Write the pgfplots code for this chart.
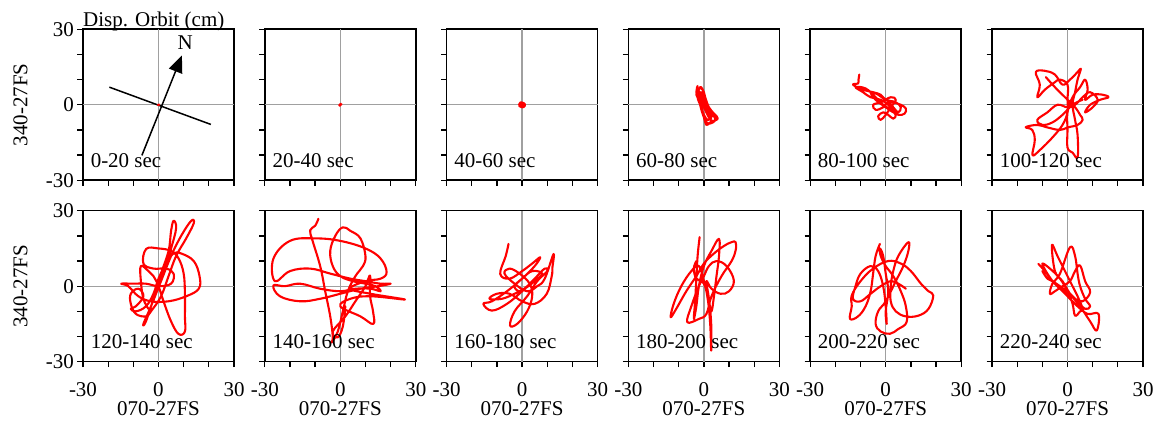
\documentclass[border=0pt]{standalone}
\usepackage{fontspec}
\setmainfont{Liberation Serif}
\usepackage{pgfplots}
\pgfplotsset{compat=1.18}
\usetikzlibrary{arrows.meta}
\definecolor{gridgray}{RGB}{160,160,160}
\definecolor{orbred}{RGB}{255,0,0}
\newcommand{\bigf}{\fontsize{21}{25}\selectfont}
\pgfplotsset{
  orb/.style={
    anchor=south west, scale only axis, width=151pt, height=151pt,
    xmin=-30, xmax=30, ymin=-30, ymax=30, clip=false,
    xtick={-30,0,30}, ytick={-30,0,30},
    minor xtick={-20,-10,10,20}, minor ytick={-20,-10,10,20},
    tick pos=left, tick align=outside,
    major tick length=5.5pt, minor tick length=5.5pt,
    every tick/.style={black, line width=1.3pt},
    axis line style={black, line width=1.6pt},
    xticklabels={}, yticklabels={},
    /pgf/number format/assume math mode=true,
    tick label style={font=\bigf},
    xticklabel style={yshift=-12pt},
    label style={font=\bigf},
  },
  lcol/.style={yticklabels={-30,0,30}, ylabel={340-27FS},
    ylabel style={at={(axis description cs:-0.368,0.5)}, anchor=base, inner sep=0pt, rotate=0}},
  brow/.style={xticklabels={-30,0,30}, xlabel={070-27FS},
    xlabel style={at={(axis description cs:0.5,-0.262)}, anchor=north, inner sep=0pt}},
  gridl/.style={gridgray, line width=1.3pt, forget plot},
  orbit/.style={orbred, line width=2.1pt, smooth, tension=0.65, no marks, line join=round, line cap=round},
}
\newcommand{\cross}{%
  \addplot[gridl] coordinates {(-30,0) (30,0)};
  \addplot[gridl] coordinates {(0,-30) (0,30)};}
\newcommand{\tlabel}[1]{\node[anchor=base west, inner sep=0pt, font=\bigf] at (rel axis cs:0.05,0.088) {#1};}
\begin{document}
\begin{tikzpicture}
\useasboundingbox (0,0) rectangle (1161pt,425pt);
% ---------------- Row 1 ----------------
\begin{axis}[orb, lcol, at={(83pt,244.7pt)}]
\cross
\draw[black, line width=1.5pt] (axis cs:-19.5,7) -- (axis cs:20.8,-7.8);
\draw[black, line width=1.5pt, -{Triangle[length=17pt,width=14pt]}] (axis cs:-6.6,-20.1) -- (axis cs:9.3,19.6);
\node[font=\bigf] at (axis cs:10.6,24.8) {N};
\addplot[orbit] coordinates {(0,0) (0.3,0.1) (-0.2,-0.1) (0,0)};
\node[anchor=base west, inner sep=0pt, font=\bigf] at (axis description cs:0,1.017) {Disp. Orbit (cm)};
\tlabel{0-20 sec}
\end{axis}
\begin{axis}[orb, at={(264.8pt,244.7pt)}]
\cross
\addplot[orbit] coordinates {(0,0) (0.5,0.2) (-0.4,-0.2) (0.2,0.4) (-0.2,-0.4) (0,0)};
\tlabel{20-40 sec}
\end{axis}
\begin{axis}[orb, at={(446.6pt,244.7pt)}]
\cross
\addplot[orbit] coordinates {(0,0) (0.9,0.5) (-0.7,0.9) (-1.1,-0.5) (0.6,-0.9) (1.1,0.2) (-0.4,1.0) (-1.1,0) (0,-1.0) (1.0,-0.3) (0.2,0.6) (-0.6,-0.4) (0,0)};
\tlabel{40-60 sec}
\end{axis}
\begin{axis}[orb, at={(628.4pt,244.7pt)}]
\cross
\addplot[orbit] coordinates {(-2.5,7.5) (-3,5) (-2,2) (-1,-2) (0,-5) (1,-8) (2.5,-7) (5.5,-5.5) (4,-3.5) (2,-1) (0.5,3) (-0.5,6) (-2,6.5) (-3,4) (-1.5,1) (-0.5,-3) (0.5,-6) (2,-7.5) (4.5,-6) (3,-3) (1,1) (0,5) (-1.5,7) (-2.5,3) (-1,-1) (0,-4) (1.5,-6) (3,-5) (1.5,-2) (0,2) (-1,5) (-2,3) (-0.5,0) (1,-3) (2,-4) (4,-4.5) (5,-5.5) (3.5,-6.5) (2,-5) (0.5,-2) (-1,2) (-2.5,5.5) (-1,4) (0,0)};
\tlabel{60-80 sec}
\end{axis}
\begin{axis}[orb, at={(810.2pt,244.7pt)}]
\cross
\addplot[orbit] coordinates {(-10.5,12) (-10.8,10) (-11,8.5) (-13,8) (-9,6) (-5,5) (-2,4) (0,2) (3,1) (6,0) (8,-1.5) (7.5,-3.5) (5,-4) (3,-2) (1,0) (-2,2) (-6,3) (-9,5) (-12,7) (-8,6.5) (-4,3) (-1,0) (2,-2) (4,-4) (3,-5.5) (1,-4) (-1,-3) (-3,-4.5) (-2,-6) (0,-4) (2,-1) (4,2) (2,3) (-2,1) (-5,0) (-4,-2) (-1,-1) (1,1) (3,-1) (5,-3) (6,-1) (4,1) (0,2) (-3,4) (-6,5) (-4,2) (0,-1) (3,-3)};
\tlabel{80-100 sec}
\end{axis}
\begin{axis}[orb, at={(992pt,244.7pt)}]
\cross
\addplot[orbit] coordinates {(-8.6,11) (-5,7) (-1,3) (3,-1) (5,-4) (6,-6) (4,-8) (0,-9) (-3,-10) (-8,-9) (-12,-8) (-16.6,-8.9) (-14,-10) (-13,-14) (-13.9,-20) (-11,-18) (-6,-13) (-2,-8) (0,-3) (0,2) (0,8) (-3,10) (-5,9) (-9,6) (-12,3) (-11,8) (-12.6,13) (-9,13.5) (-5,12) (-2,8) (1,10) (4,13) (5.3,14.3) (4,10) (3,5) (2,0) (3,-6) (4,-12) (4,-20.8) (2,-19) (0,-17) (0,-10) (0,-3) (2,3) (5,7) (7,10) (8,6) (7,2) (10,4) (14,4) (16.3,3) (13,2) (9,0) (7,-3) (10,-1) (12,2) (9,5) (6,3) (3,0) (0,-1) (-4,0) (-8,-3) (-12,-6) (-10,-8) (-6,-7) (-2,-4) (2,0) (6,2)};
\tlabel{100-120 sec}
\end{axis}
% ---------------- Row 2 ----------------
\begin{axis}[orb, lcol, brow, at={(83pt,63.3pt)}]
\cross
\addplot[orbit] coordinates {(-1,-2) (2,5) (5,15) (7,23) (6,26) (5,22) (4,14) (1,5) (-2,-5) (-5,-14) (-6,-15) (-3,-8) (1,2) (5,12) (9,20) (13,26) (14,25) (11,19) (7,12) (4,4) (1,-4) (-3,-10) (-5,-12) (-9,-11) (-11,-7) (-11,-3) (-8,-1) (-6,-4) (-9,-8) (-11,-9) (-9,-10) (-5,-8) (-2,-3) (0,3) (3,9) (6,13) (9,13) (14,10) (16.3,4) (16,-1) (11,-4) (4,-6) (-3,-6) (-8,-4) (-12,0) (-14.8,1) (-10,1) (-5,1) (0,0) (5,1) (6,5) (3,7) (-2,7) (-6,9) (-4.9,14.8) (0,15) (5,14) (8,11) (10,5) (10.5,-3) (10.5,-12) (10.5,-18) (8,-19) (5,-14) (2,-6) (0,0) (-2,4) (-4,6) (-7,8) (-7,2) (-6,-5) (-4,-9)};
\tlabel{120-140 sec}
\end{axis}
\begin{axis}[orb, brow, at={(264.8pt,63.3pt)}]
\cross
\addplot[orbit] coordinates {(-8.7,26.8) (-10,24) (-12,22.2) (-11,18) (-8,8) (-6,-2) (-4,-12) (-3,-20) (-3.4,-22.3) (-1,-18) (1,-10) (3,-2) (6,4) (9,8) (10,12) (8,19) (4,22) (1,23.4) (-2,20) (-4,14) (-3,8) (0,4) (5,2) (10,1) (14,0) (16,-2) (12,-1) (6,-1) (0,-2) (-8,-1) (-16,1) (-22,0) (-26.6,0.3) (-24,-4) (-16,-6) (-8,-5) (0,-3) (8,-1) (15,0) (20,1) (16,1) (10,2) (4,3) (-4,5) (-12,7) (-20,6) (-26,2) (-26.6,10.9) (-20,18) (-10,19) (0,18) (10,15) (16,11) (18.4,5.6) (16,3) (10,2) (4,-1) (12,-3) (25.7,-5.3) (12,-4) (4,-5) (0,-8) (8,-12) (13.1,-15) (13,-10) (11.8,-3.7) (11.8,4.2) (10,0) (6,-6) (2,-12) (-3,-18) (-1,-20.3) (1,-16) (2,-8)};
\tlabel{140-160 sec}
\end{axis}
\begin{axis}[orb, brow, at={(446.6pt,63.3pt)}]
\cross
\addplot[orbit] coordinates {(-5.4,16.8) (-6.5,12) (-8.7,4.9) (-5,3) (0,6) (4,9) (7.2,11.5) (5,8) (0,3) (-6,-2) (-12,-6) (-15.4,-7) (-12,-9.7) (-6,-7) (0,-2) (5,3) (9,7) (10,6) (6,2) (2,-4) (-3,-10) (-4.8,-15.6) (-2,-15) (2,-10) (4,-4) (3,1) (-1,5) (-5,7) (-7,5) (-3,1) (2,-2) (6,0) (9,3) (12.5,12.8) (12,7) (11.8,4.2) (9.8,-3) (5,-7) (0,-6) (-5,-3) (-10,-3) (-13,-5) (-8,-5) (-3,-3) (1,-1) (5,2) (8,5) (4,6) (0,3) (-3,0) (-1,-2) (2,0)};
\tlabel{160-180 sec}
\end{axis}
\begin{axis}[orb, brow, at={(628.4pt,63.3pt)}]
\cross
\addplot[orbit] coordinates {(-1.7,19.5) (-2.5,12) (-3,3) (-3.5,-6) (-4,-13) (-3,-8) (-2,0) (0,8) (3,14) (6,18.8) (6,12) (5,4) (4,-4) (3,-10) (2,-6) (0,2) (-2,8) (-5,6) (-9,0) (-12,-7) (-13.2,-12.3) (-11,-9) (-7,-2) (-3,4) (0,9) (4,13) (8,16) (11,17.5) (12.6,17.5) (12.6,14.2) (11,10) (7,4) (3,-4) (1,-11) (-2,-13) (-6.6,-14.3) (-5,-8) (-2,0) (0,4) (2,8) (5,10) (9,8) (11.9,2.3) (10,-2) (6.6,-3) (3,-1) (1,2) (2,-5) (2.9,-15) (2.9,-25.6) (2.5,-15) (1.5,-5) (0,1) (-3,3) (-4,7) (-3,10)};
\tlabel{180-200 sec}
\end{axis}
\begin{axis}[orb, brow, at={(810.2pt,63.3pt)}]
\cross
\addplot[orbit] coordinates {(-2.3,16.8) (-4,12) (-5,5) (-6,-2) (-8,-8) (-11,-12) (-14.2,-13) (-13.5,-8) (-13.5,-3.7) (-10,2) (-5,7) (1,10) (6,9) (10,6) (14,1) (17,-2) (18.9,-3.7) (17,-9) (13,-11.7) (8,-12) (4,-10) (2,-6) (2,0) (3,6) (5,12) (9,17.5) (9,14) (7,8) (4,2) (0,-6) (-3,-10) (-4,-15) (-2,-18) (1.7,-18.9) (5,-17) (8.3,-14.3) (8,-8) (6,-2) (3,4) (0,8) (-2,12) (-2.3,15) (-1,12) (0,5) (1,-2) (0,-10) (0.4,-15) (0,-8) (-1,0) (-3,6) (-6,8) (-10,5) (-12,0) (-13,-5) (-10,-6) (-6,-3) (-2,0) (2,2) (5,1) (8,-1)};
\tlabel{200-220 sec}
\end{axis}
\begin{axis}[orb, brow, at={(992pt,63.3pt)}]
\cross
\addplot[orbit] coordinates {(-11.6,8.9) (-9,6) (-6,2) (-3,-1) (0,-4) (4,-8) (8,-11) (12.3,-11) (11.6,-17.6) (9,-14) (5,-8) (1,-3) (-2,2) (-5,6) (-6.2,16.4) (-4,12) (-1,6) (2,0) (4,-4) (6,-9) (5,-10) (3,-11.7) (2,-7) (0,-2) (-3,3) (-7,7) (-10,9) (-8,5) (-5,1) (-1,-2) (3,-5) (6,-6) (9,-2.4) (7,2) (5,8.2) (3,6) (1,2) (-2,0) (-5,-2) (-7,-3) (-6,1) (-3,5) (1,15.5) (3,12) (4,5) (5,0) (7,-5) (9,-8) (7,-9) (4,-6) (1,-3) (-3,0) (-6,2) (-8,3) (-10,6)};
\tlabel{220-240 sec}
\end{axis}
\end{tikzpicture}
\end{document}
